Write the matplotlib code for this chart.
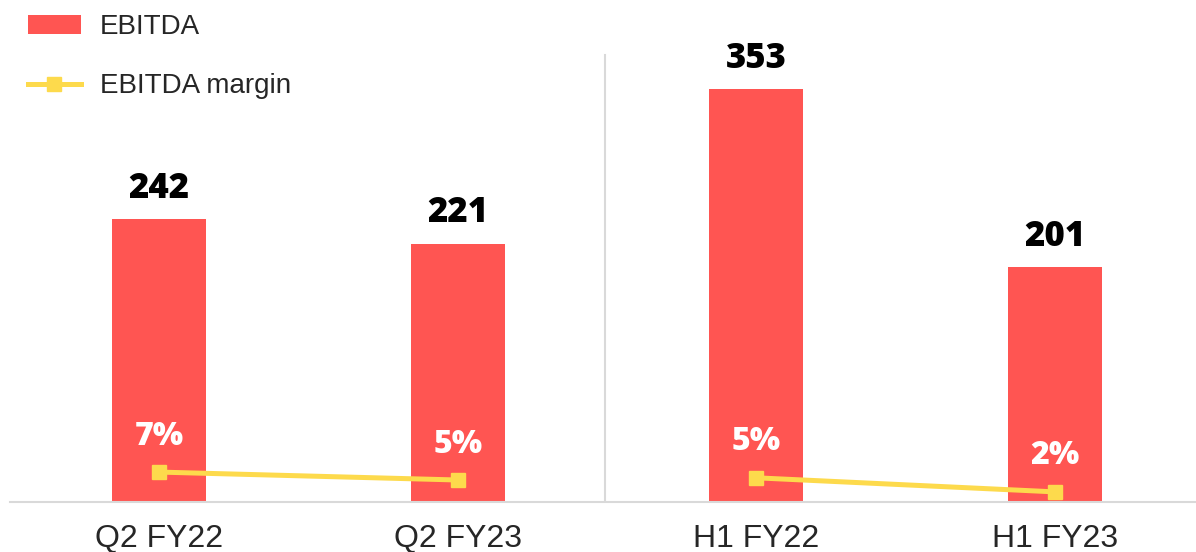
import matplotlib.pyplot as plt
import numpy as np

categorias = ['Q2 FY22', 'Q2 FY23', 'H1 FY22', 'H1 FY23']
ebitda = [242, 221, 353, 201]
margem = [6.8, 5.0, 5.5, 2.3]
margem_txt = ['7%', '5%', '5%', '2%']

vermelho = '#FF5552'
amarelo = '#FDDA4C'
cinza = '#D9D9D9'

W, H = 1196, 552
fig = plt.figure(figsize=(W / 100, H / 100), dpi=100)
# eixo posicionado em pixels
esq, base, topo = 10, 502, 10
ax = fig.add_axes([esq / W, (H - base) / H, 1 - esq / W, (base - topo) / H])
x = np.arange(len(categorias))
passo = 298.5
ax.set_xlim(-0.5, -0.5 + (W - esq) / passo)
ax.set_ylim(0, (base - topo) / 1.169)

barras = ax.bar(x, ebitda, width=94 / passo, color=vermelho, label='EBITDA', zorder=2)
for xi, v in zip(x, ebitda):
    ax.annotate(str(v), (xi, v), xytext=(0, 9), textcoords='offset points',
                ha='center', va='bottom', fontsize=25, fontweight='black',
                family='Open Sans', color='black')

for s in ['top', 'right', 'left']:
    ax.spines[s].set_visible(False)
ax.spines['bottom'].set_color(cinza)
ax.spines['bottom'].set_linewidth(1.5)
ax.set_yticks([])
ax.set_xticks(x)
ax.set_xticklabels(categorias, fontsize=23, family='Liberation Sans', color='#262626')
ax.tick_params(axis='x', length=0, pad=16)

# divisoria entre trimestre e semestre
ax.plot([1.494, 1.494], [0, 382], color=cinza, lw=1.5, zorder=1)

ax2 = ax.twinx()
ax2.set_ylim(0, (base - topo) / 4.4)
ax2.axis('off')
linha = None
for par in [(0, 1), (2, 3)]:
    xs = [x[i] for i in par]
    ys = [margem[i] for i in par]
    linha, = ax2.plot(xs, ys, color=amarelo, lw=3.6, marker='s', markersize=10,
                      label='EBITDA margin', zorder=3)
for xi, m, t in zip(x, margem, margem_txt):
    ax2.annotate(t, (xi, m), xytext=(0, 25.5), textcoords='offset points',
                 ha='center', va='center', fontsize=23, fontweight='black',
                 family='Open Sans', color='white')

fig.legend([barras, linha], ['EBITDA', 'EBITDA margin'], loc='upper left',
           bbox_to_anchor=(28 / W, 1 - 14 / H), frameon=False, borderpad=0,
           borderaxespad=0,
           prop={'family': 'Liberation Sans', 'size': 20},
           handlelength=1.9, handletextpad=0.7, labelspacing=1.2,
           labelcolor='#262626')

fig.savefig('out.png', dpi=100)
